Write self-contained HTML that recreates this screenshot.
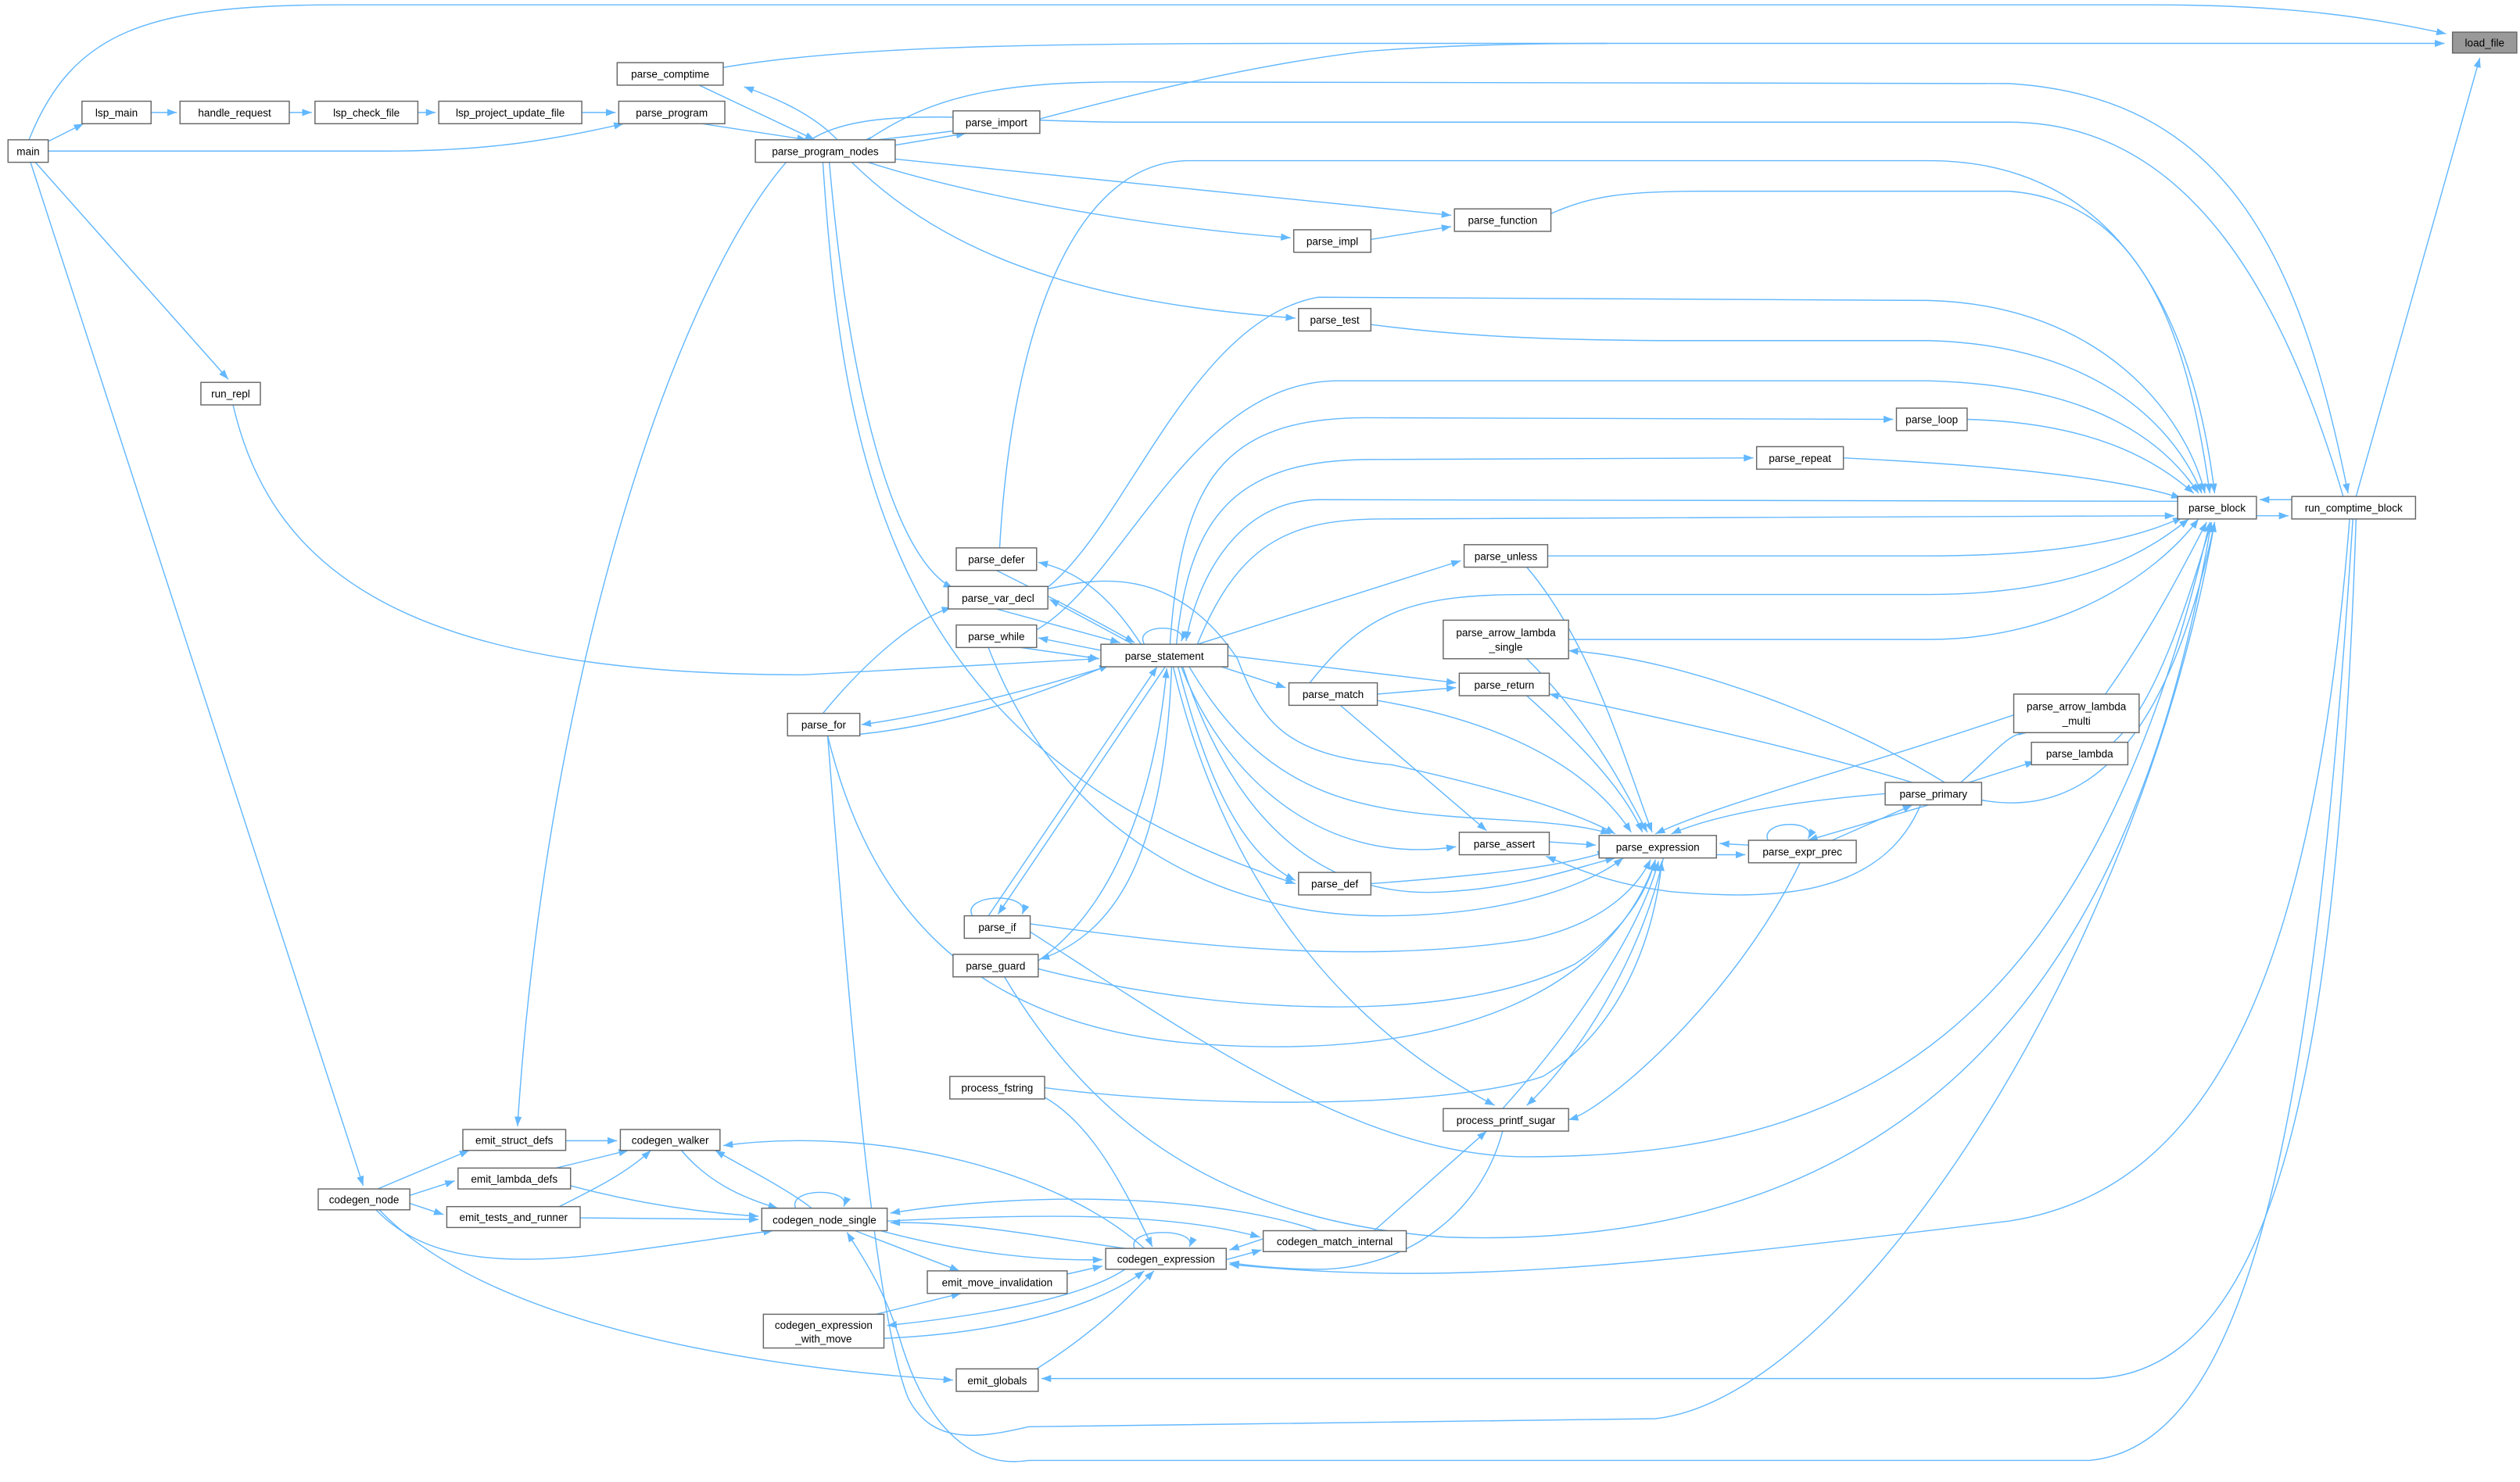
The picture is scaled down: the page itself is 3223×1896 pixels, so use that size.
<!DOCTYPE html>
<html><head><meta charset="utf-8"><style>
html,body{margin:0;padding:0;background:#fff;}
svg{display:block;}
.e{fill:none;stroke:#63b8ff;stroke-width:0.7;marker-end:url(#a);}
.n{fill:none;stroke:#63b8ff;stroke-width:0.7;}
.b{fill:#fff;stroke:#666;stroke-width:0.7;}
text{font-family:"Liberation Sans",sans-serif;font-size:6.6px;fill:#000;text-anchor:middle;}
</style></head><body>
<svg width="3223" height="1896" viewBox="0 0 1568 922.4" xmlns="http://www.w3.org/2000/svg">
<defs><marker id="a" markerUnits="userSpaceOnUse" markerWidth="6" markerHeight="5" refX="6" refY="2.25" orient="auto"><path d="M0,0 L6,2.25 L0,4.5 z" fill="#63b8ff"/></marker></defs>
<g>
<path class="e" d="M18,87 C45,20 90,3 210,3 L1340,3 C1430,3 1480,12 1522,21"/>
<path class="e" d="M450,42 C520,30 620,27 800,27 L1521,27"/>
<path class="n" d="M647,74 C700,60 780,40 850,32 C900,28 950,27 1000,27"/>
<path class="e" d="M1466,309 L1543,36"/>
<path class="e" d="M30,88 L52,77"/><path class="e" d="M94,70 L110,70"/><path class="e" d="M180,70 L194,70"/><path class="e" d="M260,70 L271,70"/><path class="e" d="M362,70 L383,70"/>
<path class="e" d="M30,94 L240,94 C300,94 340,88 388,77"/>
<path class="e" d="M22,101 L142,236"/>
<path class="e" d="M19,101 L226,738"/>
<path class="e" d="M437,77 L502,87"/><path class="e" d="M435,53 L507,87"/><path class="e" d="M521,87 C505,70 480,60 463,54"/>
<path class="e" d="M540,87 C580,60 620,51 700,51 L1250,52 C1380,60 1430,150 1461,307"/>
<path class="e" d="M597,81 C575,84 555,86 536,88"/><path class="e" d="M547,92 L601,83"/>
<path class="e" d="M547,98 L903,134"/>
<path class="e" d="M540,101 C600,120 700,140 803,148"/>
<path class="e" d="M530,101 C600,170 700,190 806,198"/>
<path class="e" d="M853,149 L903,141"/>
<path class="e" d="M965,133 C990,122 1010,119 1060,119 L1250,119 C1330,125 1360,200 1375,307"/>
<path class="e" d="M622,341 C630,200 670,100 740,100 L1200,100 C1320,100 1365,200 1378,307"/>
<path class="e" d="M650,367 C700,330 740,200 820,185 L1200,187 C1310,190 1360,260 1372,307"/>
<path class="e" d="M853,202 C900,208 950,212 1050,212 L1200,212 C1310,215 1355,270 1370,307"/>
<path class="e" d="M645,392 C700,360 740,240 830,237 L1200,237 C1310,240 1350,280 1368,307"/>
<path class="e" d="M728,401 C735,300 760,260 850,260 L1178,261"/>
<path class="e" d="M1224,261 C1300,263 1340,285 1365,307"/>
<path class="e" d="M732,401 C740,320 770,287 850,286 L1091,285"/>
<path class="e" d="M1147,285 C1250,290 1320,298 1357,310"/>
<path class="e" d="M1355,312 L820,311 C770,312 745,360 738,399"/>
<path class="e" d="M745,401 C770,340 800,323 860,323 L1353,321"/>
<path class="e" d="M745,401 L909,349"/>
<path class="e" d="M963,346 L1200,346 C1300,346 1340,330 1358,322"/>
<path class="e" d="M815,425 C850,380 880,370 950,370 L1200,370 C1300,370 1340,340 1362,323"/>
<path class="e" d="M976,398 L1200,398 C1280,398 1340,360 1368,323"/>
<path class="e" d="M1310,432 C1340,390 1360,350 1373,325"/>
<path class="e" d="M1315,462 C1340,440 1360,380 1376,325"/>
<path class="e" d="M1233,498 C1300,510 1350,460 1378,325"/>
<path class="e" d="M1404,321 L1424,321"/><path class="e" d="M1426,311 L1406,311"/>
<path class="e" d="M145,252 C170,360 260,420 500,420 L683,410"/>
<path class="e" d="M516,101 C530,260 560,350 593,366"/>
<path class="e" d="M512,101 C525,300 560,470 806,550"/>
<path class="e" d="M710,401 C690,370 670,355 646,350"/>
<path class="e" d="M620,355 C650,370 680,385 706,400"/>
<path class="e" d="M705,401 L653,373"/>
<path class="e" d="M620,379 L697,400"/>
<path class="e" d="M686,405 L646,397"/>
<path class="e" d="M635,403 L684,410"/>
<path class="e" d="M512,444 C540,410 570,385 592,378"/>
<path class="e" d="M688,415 C640,430 580,445 536,451"/>
<path class="e" d="M535,457 C600,450 650,430 690,414"/>
<path class="e" d="M712,401 C705,388 740,388 735,399"/>
<path class="e" d="M615,570 L720,415"/><path class="e" d="M725,415 L621,569"/>
<path class="e" d="M605,570 C598,556 642,555 636,569"/>
<path class="e" d="M646,598 C700,560 720,480 726,416"/>
<path class="e" d="M729,415 C725,520 700,580 647,597"/>
<path class="e" d="M760,415 L800,428"/>
<path class="e" d="M764,408 L906,425"/>
<path class="e" d="M857,432 L906,428"/>
<path class="e" d="M834,439 L925,517"/>
<path class="e" d="M735,415 C760,480 820,540 906,527"/>
<path class="e" d="M733,415 C750,480 770,530 806,548"/>
<path class="e" d="M730,415 C750,500 800,620 930,688"/>
<path class="e" d="M740,415 C790,500 850,505 930,510 C970,512 990,515 1002,519"/>
<path class="e" d="M736,415 C770,520 830,560 900,555 C950,552 980,540 1005,534"/>
<path class="e" d="M950,353 C990,400 1010,470 1028,518"/>
<path class="e" d="M950,410 C990,450 1010,490 1025,518"/>
<path class="e" d="M950,433 C980,460 1010,490 1022,518"/>
<path class="e" d="M857,436 C940,450 990,480 1015,518"/>
<path class="e" d="M650,367 C680,360 730,350 770,410 C785,450 800,470 866,476 C930,490 980,505 1005,519"/>
<path class="e" d="M615,403 C660,520 760,570 860,570 C940,570 990,550 1010,534"/>
<path class="e" d="M853,550 C920,545 970,540 1000,530"/>
<path class="e" d="M964,524 L993,526"/>
<path class="e" d="M1195,501 C1170,560 1100,560 1040,555 C1000,550 980,540 962,533"/>
<path class="e" d="M641,575 C750,590 850,600 950,585 C1000,575 1020,550 1027,535"/>
<path class="e" d="M646,603 C750,630 900,640 980,600 C1010,580 1025,555 1030,535"/>
<path class="e" d="M515,458 C540,560 600,640 750,650 C900,660 1000,620 1030,536"/>
<path class="e" d="M935,690 C980,640 1020,580 1032,536"/>
<path class="e" d="M1035,534 C1020,600 980,660 950,688"/>
<path class="e" d="M650,677 C750,690 900,690 960,670 C1010,640 1030,580 1034,536"/>
<path class="e" d="M1068,532 L1086,532"/><path class="e" d="M1088,526 L1070,525"/>
<path class="e" d="M1100,523 C1095,510 1132,510 1125,522"/>
<path class="e" d="M1140,523 L1190,501"/><path class="e" d="M1200,501 L1125,523"/>
<path class="e" d="M1173,494 C1100,500 1060,510 1040,519"/>
<path class="e" d="M1210,487 C1150,450 1050,410 976,405"/>
<path class="e" d="M1190,487 C1100,460 1000,440 964,432"/>
<path class="e" d="M1220,487 C1240,470 1250,455 1262,456"/>
<path class="e" d="M1225,487 L1266,474"/>
<path class="e" d="M1253,445 C1150,480 1070,500 1030,519"/>
<path class="e" d="M1120,537 C1080,620 1000,690 976,697"/>
<path class="e" d="M855,766 L925,704"/>
<path class="e" d="M1462,323 C1440,600 1380,740 1250,760 C1000,790 900,800 765,787"/>
<path class="e" d="M641,580 C750,650 850,720 950,720 C1150,720 1300,650 1375,325"/>
<path class="e" d="M625,608 C680,700 760,760 900,770 C1200,780 1330,600 1376,325"/>
<path class="e" d="M515,458 C530,650 545,820 565,870 C580,900 610,895 640,888 L1030,883 C1150,870 1330,600 1378,325"/>
<path class="e" d="M1464,323 C1440,700 1400,900 1300,909 L640,909 C600,915 575,880 562,840 C550,800 535,780 527,767"/>
<path class="e" d="M1466,323 C1455,650 1420,858 1300,858 L648,858"/>
<path class="e" d="M1458,309 C1420,180 1360,76 1250,76 L700,76 C600,76 520,60 490,100 C420,180 340,420 322,701"/>
<path class="e" d="M235,740 L292,716"/><path class="e" d="M255,744 L283,735"/><path class="e" d="M255,749 L276,756"/>
<path class="e" d="M234,753 C260,780 300,790 380,780 C420,775 450,770 481,766"/>
<path class="e" d="M236,753 C300,820 450,850 593,859"/>
<path class="e" d="M352,710 L384,710"/><path class="e" d="M346,727 L391,716"/><path class="e" d="M348,751 C370,740 390,730 405,716"/>
<path class="e" d="M355,738 C400,750 440,755 472,757"/><path class="e" d="M361,758 L472,759"/>
<path class="e" d="M424,716 C440,735 460,745 484,752"/><path class="e" d="M505,752 C490,740 460,725 445,716"/>
<path class="e" d="M495,752 C490,739 530,739 525,751"/>
<path class="e" d="M712,777 C660,730 550,700 450,713"/>
<path class="e" d="M548,766 C600,780 650,785 686,784"/><path class="e" d="M700,777 C650,770 600,760 554,761"/>
<path class="e" d="M820,766 C760,745 650,740 554,755"/><path class="e" d="M552,760 C650,755 730,755 784,770"/>
<path class="e" d="M532,766 L597,791"/><path class="e" d="M664,793 L686,788"/>
<path class="e" d="M706,777 C700,764 746,764 740,776"/>
<path class="e" d="M763,784 L785,778"/><path class="e" d="M786,771 L765,778"/>
<path class="e" d="M700,790 C670,810 600,820 552,825"/><path class="e" d="M550,833 C620,830 680,815 712,791"/><path class="e" d="M545,818 L598,805"/>
<path class="e" d="M645,852 C680,830 700,810 718,791"/>
<path class="e" d="M650,683 C680,700 700,740 717,776"/>
<path class="e" d="M935,704 C920,760 870,790 820,790 C800,790 780,788 765,786"/>
</g>
<g>
<rect class="b" x="1526" y="20" width="40" height="13" style="fill:#999"/><text x="1546" y="29">load_file</text>
<rect class="b" x="5" y="87" width="25" height="14"/><text x="17.5" y="96.5">main</text>
<rect class="b" x="51" y="63" width="43" height="14"/><text x="72.5" y="72.5">lsp_main</text>
<rect class="b" x="112" y="63" width="68" height="14"/><text x="146" y="72.5">handle_request</text>
<rect class="b" x="196" y="63" width="64" height="14"/><text x="228" y="72.5">lsp_check_file</text>
<rect class="b" x="273" y="63" width="89" height="14"/><text x="317.5" y="72.5">lsp_project_update_file</text>
<rect class="b" x="385" y="63" width="66" height="14"/><text x="418" y="72.5">parse_program</text>
<rect class="b" x="384" y="39" width="66" height="14"/><text x="417" y="48.5">parse_comptime</text>
<rect class="b" x="470" y="87" width="87" height="14"/><text x="513.5" y="96.5">parse_program_nodes</text>
<rect class="b" x="593" y="69" width="54" height="14"/><text x="620" y="78.5">parse_import</text>
<rect class="b" x="905" y="130" width="60" height="14"/><text x="935" y="139.5">parse_function</text>
<rect class="b" x="805" y="143" width="48" height="14"/><text x="829" y="152.5">parse_impl</text>
<rect class="b" x="808" y="192" width="45" height="14"/><text x="830.5" y="201.5">parse_test</text>
<rect class="b" x="125" y="238" width="37" height="14"/><text x="143.5" y="247.5">run_repl</text>
<rect class="b" x="1180" y="254" width="44" height="14"/><text x="1202" y="263.5">parse_loop</text>
<rect class="b" x="1093" y="278" width="54" height="14"/><text x="1120" y="287.5">parse_repeat</text>
<rect class="b" x="1355" y="309" width="49" height="14"/><text x="1379.5" y="318.5">parse_block</text>
<rect class="b" x="1426" y="309" width="77" height="14"/><text x="1464.5" y="318.5">run_comptime_block</text>
<rect class="b" x="595" y="341" width="50" height="14"/><text x="620" y="350.5">parse_defer</text>
<rect class="b" x="911" y="339" width="52" height="14"/><text x="937" y="348.5">parse_unless</text>
<rect class="b" x="590" y="365" width="62" height="14"/><text x="621" y="374.5">parse_var_decl</text>
<rect class="b" x="595" y="389" width="50" height="14"/><text x="620" y="398.5">parse_while</text>
<rect class="b" x="898" y="386" width="78" height="24"/><text x="937" y="396">parse_arrow_lambda</text><text x="937" y="405">_single</text>
<rect class="b" x="685" y="401" width="79" height="14"/><text x="724.5" y="410.5">parse_statement</text>
<rect class="b" x="908" y="419" width="56" height="14"/><text x="936" y="428.5">parse_return</text>
<rect class="b" x="802" y="425" width="55" height="14"/><text x="829.5" y="434.5">parse_match</text>
<rect class="b" x="1253" y="432" width="78" height="24"/><text x="1292" y="442">parse_arrow_lambda</text><text x="1292" y="451">_multi</text>
<rect class="b" x="490" y="444" width="45" height="14"/><text x="512.5" y="453.5">parse_for</text>
<rect class="b" x="1264" y="462" width="60" height="14"/><text x="1294" y="471.5">parse_lambda</text>
<rect class="b" x="1173" y="487" width="60" height="14"/><text x="1203" y="496.5">parse_primary</text>
<rect class="b" x="995" y="520" width="73" height="14"/><text x="1031.5" y="529.5">parse_expression</text>
<rect class="b" x="1088" y="523" width="67" height="14"/><text x="1121.5" y="532.5">parse_expr_prec</text>
<rect class="b" x="908" y="518" width="56" height="14"/><text x="936" y="527.5">parse_assert</text>
<rect class="b" x="808" y="543" width="45" height="14"/><text x="830.5" y="552.5">parse_def</text>
<rect class="b" x="600" y="570" width="41" height="14"/><text x="620.5" y="579.5">parse_if</text>
<rect class="b" x="593" y="594" width="53" height="14"/><text x="619.5" y="603.5">parse_guard</text>
<rect class="b" x="591" y="670" width="59" height="14"/><text x="620.5" y="679.5">process_fstring</text>
<rect class="b" x="898" y="690" width="78" height="14"/><text x="937" y="699.5">process_printf_sugar</text>
<rect class="b" x="288" y="703" width="64" height="13"/><text x="320" y="712">emit_struct_defs</text>
<rect class="b" x="386" y="703" width="62" height="13"/><text x="417" y="712">codegen_walker</text>
<rect class="b" x="285" y="727" width="70" height="13"/><text x="320" y="736">emit_lambda_defs</text>
<rect class="b" x="198" y="740" width="57" height="13"/><text x="226.5" y="749">codegen_node</text>
<rect class="b" x="278" y="751" width="83" height="13"/><text x="319.5" y="760">emit_tests_and_runner</text>
<rect class="b" x="474" y="752" width="78" height="14"/><text x="513" y="761.5">codegen_node_single</text>
<rect class="b" x="786" y="766" width="89" height="13"/><text x="830.5" y="775">codegen_match_internal</text>
<rect class="b" x="688" y="777" width="75" height="13"/><text x="725.5" y="786">codegen_expression</text>
<rect class="b" x="577" y="791" width="87" height="14"/><text x="620.5" y="800.5">emit_move_invalidation</text>
<rect class="b" x="475" y="818" width="75" height="21"/><text x="512.5" y="827">codegen_expression</text><text x="512.5" y="835.5">_with_move</text>
<rect class="b" x="595" y="852" width="51" height="14"/><text x="620.5" y="861.5">emit_globals</text>
</g>
</svg>
</body></html>
